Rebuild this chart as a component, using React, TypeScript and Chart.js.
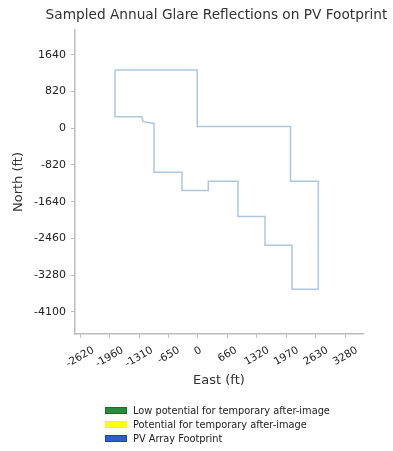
import React, { useEffect, useRef } from "react";
import { Chart, registerables } from "chart.js";

Chart.register(...registerables);

// ---- data ----
const chartTitle = "Sampled Annual Glare Reflections on PV Footprint";
const xAxisTitle = "East (ft)";
const yAxisTitle = "North (ft)";

const xTickValues = [-2624.7, -1968.5, -1312.3, -656.2, 0, 656.2, 1312.3, 1968.5, 2624.7, 3280.8];
const xTickLabels = ["-2620", "-1960", "-1310", "-650", "0", "660", "1320", "1970", "2630", "3280"];
const yTickValues = [1640.4, 820.2, 0, -820.2, -1640.4, -2460.6, -3280.8, -4101.0];
const yTickLabels = ["1640", "820", "0", "-820", "-1640", "-2460", "-3280", "-4100"];

const xMin = -2738;
const xMax = 3673;
const yMin = -4599;
const yMax = 2198;

// PV array footprint outline (ft)
const footprintEast = [-1848, -18, -18, 2059, 2059, 2678, 2678, 2108, 2093, 1503, 1492, 890, 890, 229, 229, -345, -356, -980, -980, -1224, -1247, -1848, -1848];
const footprintNorth = [1304, 1304, 38, 38, -1182, -1182, -3598, -3598, -2616, -2616, -1972, -1972, -1182, -1182, -1392, -1392, -985, -985, 109, 148, 261, 261, 1304];

// glare series (none sampled)
const lowPotentialEast: number[] = [];
const lowPotentialNorth: number[] = [];
const potentialEast: number[] = [];
const potentialNorth: number[] = [];

const seriesLabels = ["Low potential for temporary after-image", "Potential for temporary after-image", "PV Array Footprint"];
const legendColors = ["#2b8a3c", "#ffff1a", "#2c5fc9"];
const legendBorders = ["#1d6b2c", "#f5f500", "#1d46a8"];
const footprintLineColor = "#aec6e0";

const FONT = '"DejaVu Sans", sans-serif';
const X_FONT = 10.5;
const TITLE_FONT = 13.7;

const toPoints = (xs: number[], ys: number[]) => xs.map((x, i) => ({ x, y: ys[i] }));

const xLabelPlugin = {
  id: "xRotLabels",
  afterDraw(chart: any) {
    const scale = chart.scales.x;
    const ctx = chart.ctx;
    ctx.save();
    ctx.font = `${X_FONT}px ${FONT}`;
    ctx.fillStyle = "#222";
    ctx.textAlign = "center";
    ctx.textBaseline = "middle";
    const a = (30 * Math.PI) / 180;
    const h = X_FONT;
    xTickValues.forEach((v, i) => {
      const label = xTickLabels[i];
      const w = ctx.measureText(label).width;
      const H = w * Math.sin(a) + h * Math.cos(a);
      const px = scale.getPixelForValue(v);
      const cy = scale.top + 11 + H / 2;
      ctx.save();
      ctx.translate(px, cy);
      ctx.rotate(-a);
      ctx.fillText(label, 0, 0);
      ctx.restore();
    });
    ctx.restore();
  },
};

const titlePlugin = {
  id: "areaTitle",
  afterDraw(chart: any) {
    const { ctx, chartArea } = chart;
    ctx.save();
    ctx.font = `${TITLE_FONT}px ${FONT}`;
    ctx.fillStyle = "#333";
    ctx.textAlign = "center";
    ctx.textBaseline = "middle";
    ctx.fillText(chartTitle, (chartArea.left + chartArea.right) / 2 - 2.5, 15);
    ctx.restore();
  },
};

export default function App() {
  const canvasRef = useRef<HTMLCanvasElement | null>(null);

  useEffect(() => {
    if (!canvasRef.current) return;
    const spine = "#bcbcbc";
    const chart = new Chart(canvasRef.current, {
      type: "scatter",
      data: {
        datasets: [
          {
            label: seriesLabels[0],
            data: toPoints(lowPotentialEast, lowPotentialNorth),
            backgroundColor: legendColors[0],
            borderColor: legendColors[0],
            pointRadius: 2,
          },
          {
            label: seriesLabels[1],
            data: toPoints(potentialEast, potentialNorth),
            backgroundColor: legendColors[1],
            borderColor: legendColors[1],
            pointRadius: 2,
          },
          {
            label: seriesLabels[2],
            data: toPoints(footprintEast, footprintNorth),
            showLine: true,
            borderColor: footprintLineColor,
            backgroundColor: footprintLineColor,
            borderWidth: 1.5,
            pointRadius: 0,
            fill: false,
            tension: 0,
          },
        ],
      },
      options: {
        responsive: false,
        animation: false,
        devicePixelRatio: 1,
        layout: { padding: { left: 0, right: 30, top: 30, bottom: 47 } },
        plugins: {
          legend: { display: false },
          tooltip: { enabled: false },
          title: { display: false },
        },
        scales: {
          x: {
            type: "linear",
            min: xMin,
            max: xMax,
            bounds: "data",
            afterBuildTicks: (scale: any) => {
              scale.ticks = xTickValues.map((v) => ({ value: v }));
            },
            afterFit: (scale: any) => {
              scale.height = 70;
            },
            ticks: { display: false, autoSkip: false },
            grid: { display: true, drawOnChartArea: false, drawTicks: true, tickLength: 4, color: spine, lineWidth: 1 },
            border: { display: true, color: spine, width: 1.5 },
            title: {
              display: true,
              text: xAxisTitle,
              color: "#333",
              font: { family: FONT, size: 13 },
              padding: { top: 0, bottom: 15.2 },
            },
          },
          y: {
            type: "linear",
            min: yMin,
            max: yMax,
            bounds: "data",
            afterBuildTicks: (scale: any) => {
              scale.ticks = yTickValues.map((v) => ({ value: v }));
            },
            afterFit: (scale: any) => {
              scale.width = 75;
            },
            ticks: {
              autoSkip: false,
              padding: 5,
              color: "#222",
              font: { family: FONT, size: 11 },
              callback: (_v: any, i: number) => yTickLabels[i],
            },
            grid: { display: true, drawOnChartArea: false, drawTicks: true, tickLength: 4, color: spine, lineWidth: 1 },
            border: { display: true, color: spine, width: 1.5 },
            title: {
              display: true,
              text: yAxisTitle,
              color: "#333",
              font: { family: FONT, size: 13 },
              padding: { top: 10.7, bottom: 0 },
            },
          },
        },
      },
      plugins: [xLabelPlugin, titlePlugin],
    } as any);
    return () => chart.destroy();
  }, []);

  return (
    <div style={{ position: "absolute", left: 0, top: 0, width: 393, height: 451, background: "#fff" }}>
      <canvas ref={canvasRef} width={393} height={451} style={{ display: "block", width: 393, height: 451 }} />
      <div style={{ position: "absolute", left: 105, top: 403, fontFamily: FONT, fontSize: 9.8, color: "#222" }}>
        {seriesLabels.map((label, i) => (
          <div key={label} style={{ display: "flex", alignItems: "center", height: 14 }}>
            <span
              style={{
                display: "inline-block",
                width: 20,
                height: 5,
                background: legendColors[i],
                border: `1px solid ${legendBorders[i]}`,
                marginRight: 6,
              }}
            />
            <span style={{ whiteSpace: "nowrap" }}>{label}</span>
          </div>
        ))}
      </div>
    </div>
  );
}
